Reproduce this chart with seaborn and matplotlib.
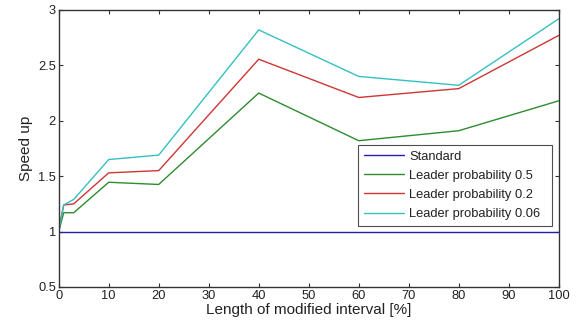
import matplotlib
matplotlib.use("Agg")
import matplotlib.pyplot as plt
import seaborn as sns
import pandas as pd

x_vals = [0, 1, 3, 10, 20, 40, 60, 80, 100]
standard = [1.0, 1.0, 1.0, 1.0, 1.0, 1.0, 1.0, 1.0, 1.0]
leader_05 = [1.0, 1.17, 1.17, 1.445, 1.425, 2.25, 1.82, 1.91, 2.18]
leader_02 = [1.02, 1.24, 1.25, 1.53, 1.55, 2.555, 2.21, 2.29, 2.77]
leader_006 = [1.0, 1.24, 1.29, 1.65, 1.69, 2.82, 2.40, 2.32, 2.92]

series_names = ["Standard", "Leader probability 0.5", "Leader probability 0.2", "Leader probability 0.06"]
series_vals = [standard, leader_05, leader_02, leader_006]
colors = ["#1f1fb4", "#2e8b2e", "#d03535", "#35c0c0"]

rows = []
for name, vals in zip(series_names, series_vals):
    for xv, yv in zip(x_vals, vals):
        rows.append({"x": xv, "y": yv, "series": name})
df = pd.DataFrame(rows)

sns.set_theme(style="white")
plt.rcParams["font.family"] = ["Liberation Sans", "DejaVu Sans"]

fig = plt.figure(figsize=(5.79, 3.31), dpi=100)
ax = fig.add_axes([0.1014, 0.133, 0.8636, 0.837])
sns.lineplot(data=df, x="x", y="y", hue="series", hue_order=series_names,
             palette=colors, ax=ax, linewidth=1.0, sort=False, estimator=None)

ax.set_xlim(0, 100)
ax.set_ylim(0.5, 3)
ax.set_xticks(range(0, 101, 10))
ax.set_yticks([0.5, 1, 1.5, 2, 2.5, 3])
ax.set_yticklabels(["0.5", "1", "1.5", "2", "2.5", "3"])
ax.tick_params(direction="in", length=3, width=0.8, colors="#333333",
               labelcolor="#222222", labelsize=9.3, top=True, right=True,
               bottom=True, left=True, pad=2)
for sp in ax.spines.values():
    sp.set_color("#333333")
    sp.set_linewidth(1.0)
ax.set_xlabel("Length of modified interval [%]", fontsize=11, color="#222222", labelpad=1)
ax.set_ylabel("Speed up", fontsize=11, color="#222222", labelpad=4)

leg = ax.legend(loc="upper left", bbox_to_anchor=(0.599, 0.513, 0.387, 0.0),
                mode="expand", fontsize=9.3, frameon=True, fancybox=False,
                handlelength=3.1, handletextpad=0.4, borderpad=0.45,
                labelspacing=0.55, borderaxespad=0)
leg.get_frame().set_edgecolor("#222222")
leg.get_frame().set_linewidth(0.8)
for t in leg.get_texts():
    t.set_color("#222222")

fig.savefig("out.png", dpi=100, facecolor="white")
